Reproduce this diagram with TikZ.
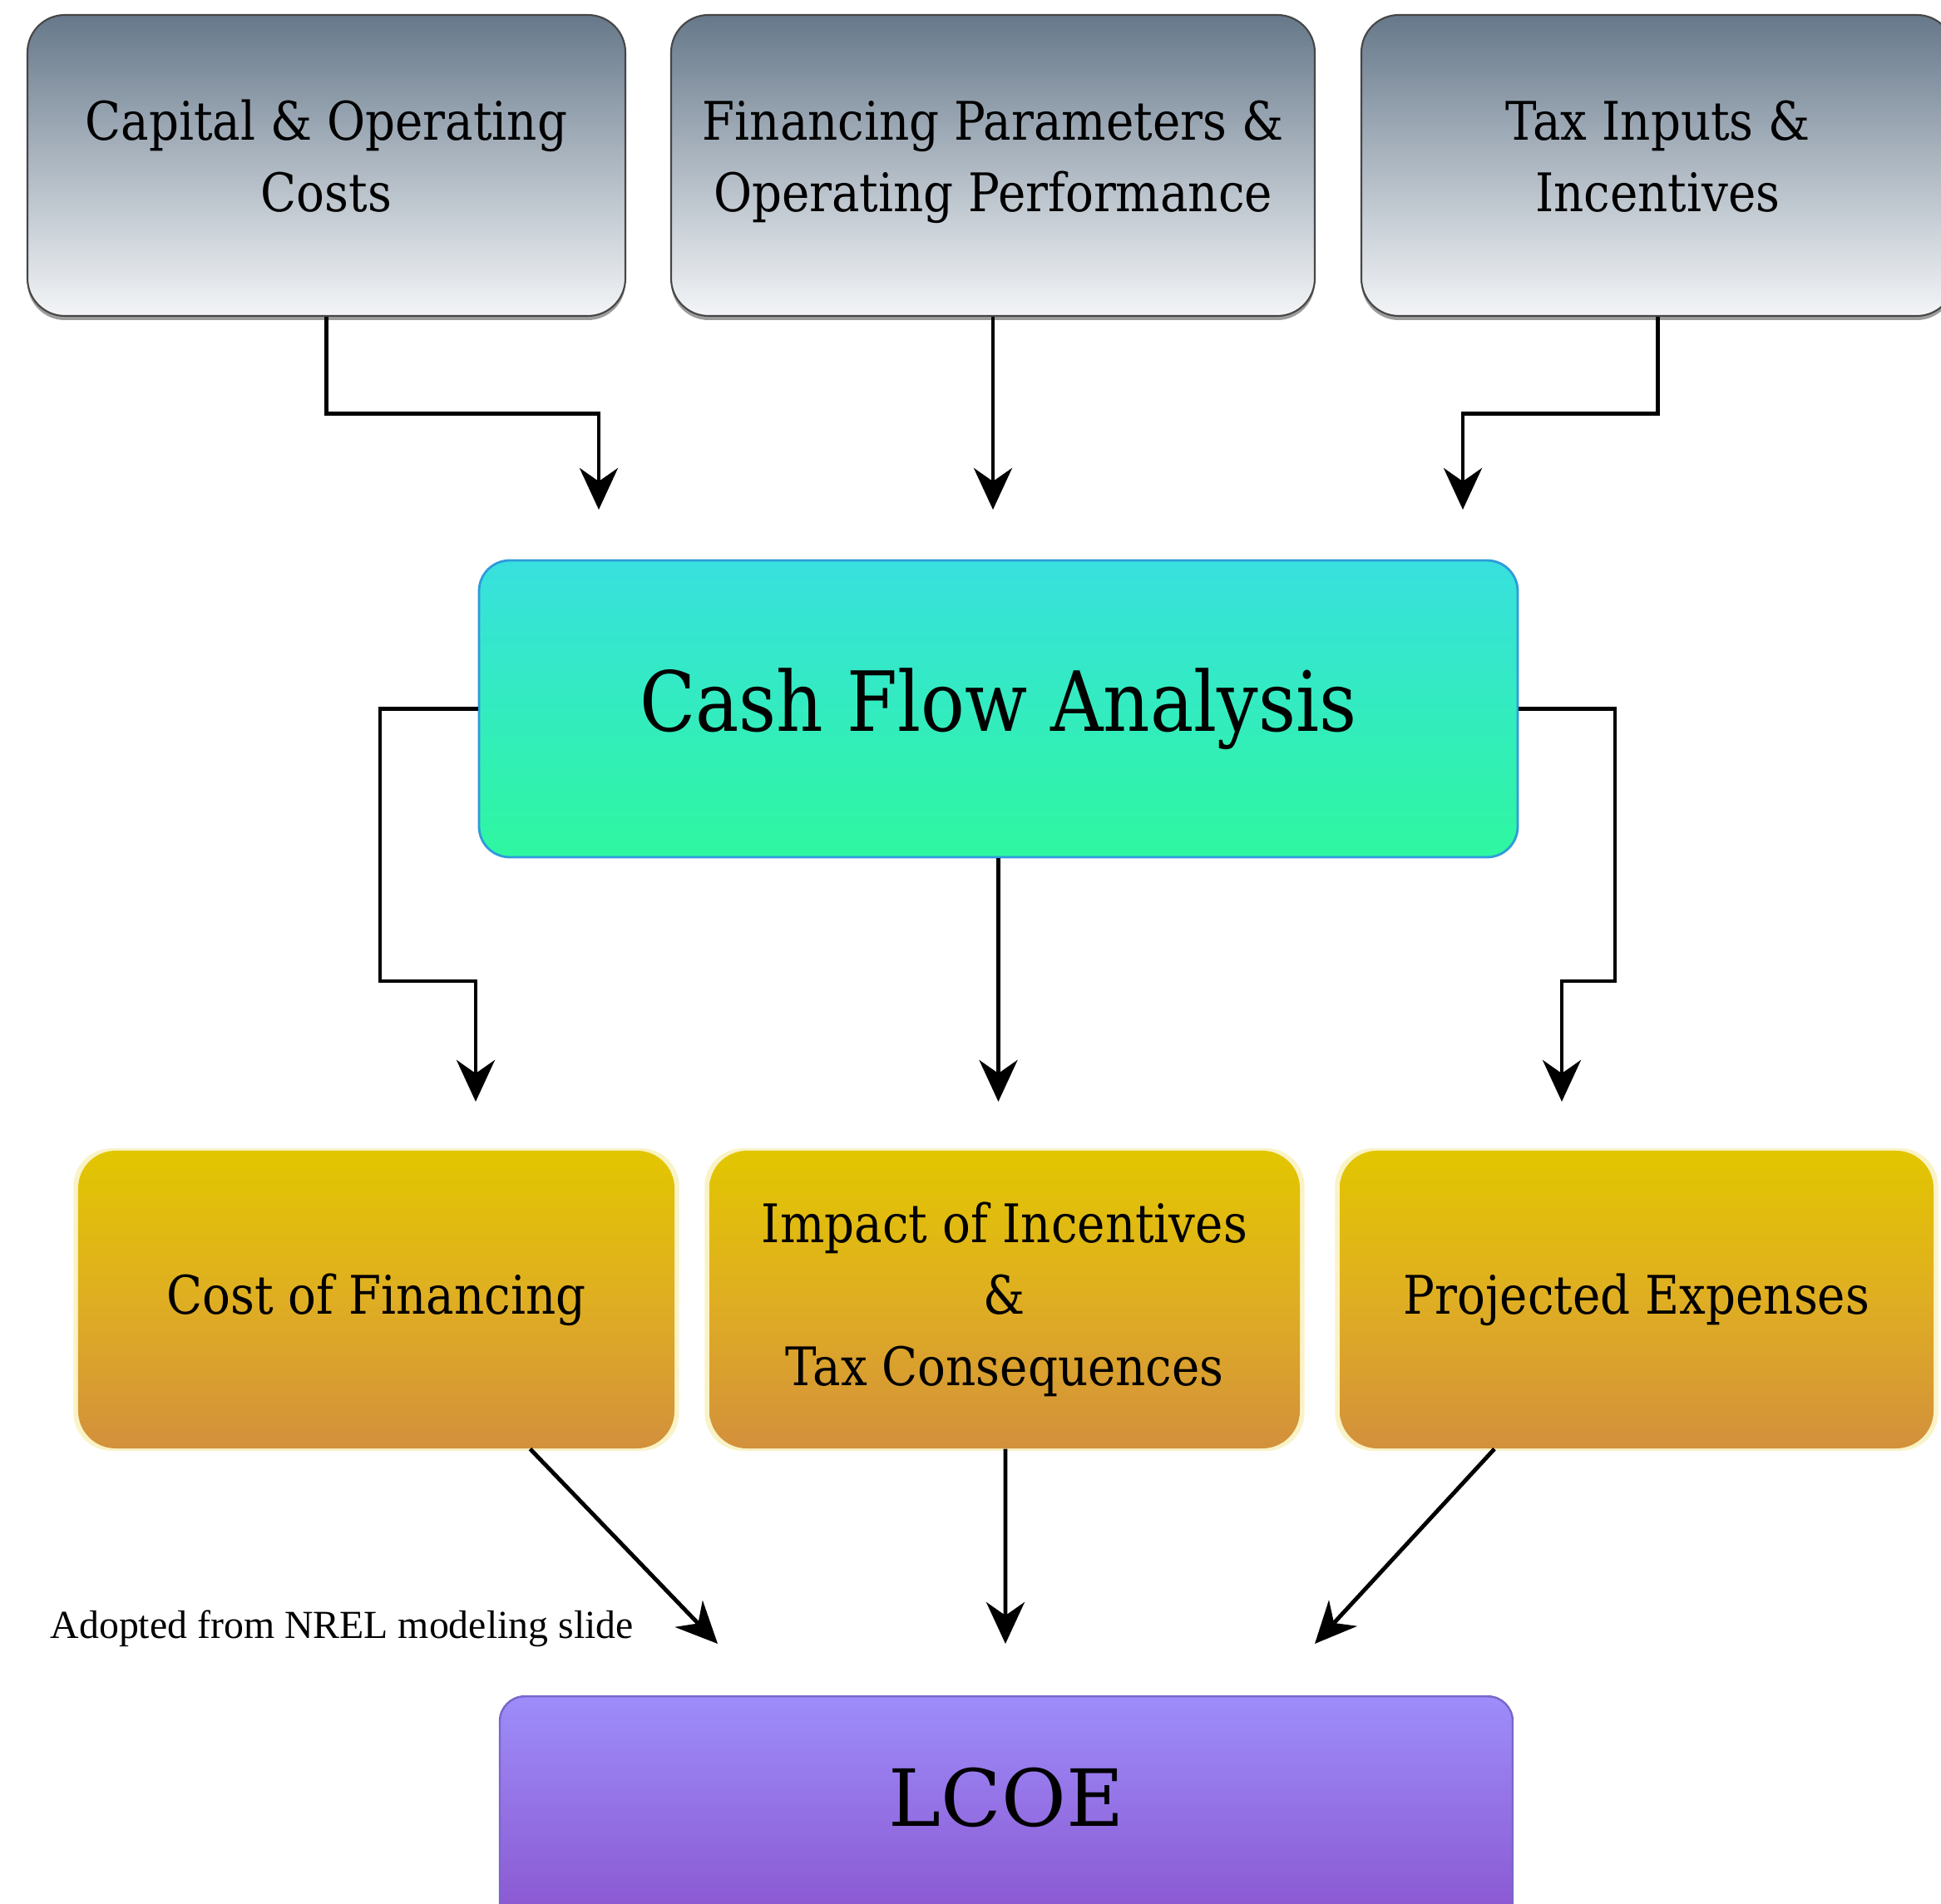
\documentclass[tikz,border=0pt]{standalone}
\usepackage{fontspec}
\setmainfont{DejaVu Serif}[FakeStretch=0.88]
\newfontfamily\lcoefont{DejaVu Serif}
\newfontfamily\notefont{Liberation Serif}
\usetikzlibrary{arrows.meta,shadows,calc}
\definecolor{slateT}{HTML}{66788A}
\definecolor{slateM}{HTML}{AEB8C2}
\definecolor{slateB}{HTML}{F3F5F7}
\definecolor{cyanT}{HTML}{38E0DE}
\definecolor{cyanB}{HTML}{2EF7A0}
\definecolor{cyanD}{HTML}{2E9BDB}
\definecolor{goldT}{HTML}{E2C600}
\definecolor{goldM}{HTML}{DFAE22}
\definecolor{goldB}{HTML}{D3903C}
\definecolor{glow}{HTML}{F7EEB0}
\definecolor{purT}{HTML}{9D8DFA}
\definecolor{purB}{HTML}{8850CC}
\definecolor{purD}{HTML}{7A66C8}
\begin{document}
\begin{tikzpicture}[x=1cm,y=1cm,
  txt/.style={font=\fontsize{18.2}{24.5}\selectfont, align=center},
  inbox/.style={txt, rounded corners=0.45cm, draw=gray!55!black, line width=0.6pt,
    top color=slateT, bottom color=slateB, middle color=slateM,
    minimum width=#1, minimum height=3.62cm, inner sep=0pt,
    drop shadow={shadow xshift=0cm, shadow yshift=-0.05cm, fill=black!70, opacity=0.55}},
  cfbox/.style={rounded corners=0.37cm, draw=cyanD, line width=0.8pt,
    top color=cyanT, bottom color=cyanB,
    minimum width=12.49cm, minimum height=3.57cm, inner sep=0pt,
    font=\fontsize{28.4}{34}\selectfont},
  goldbox/.style={txt, rounded corners=0.45cm, draw=none,
    top color=goldT, bottom color=goldB, middle color=goldM,
    minimum width=#1, minimum height=3.58cm, inner sep=0pt,
    general shadow={fill=glow, opacity=0.7, shadow scale=1.016}},
  lcoebox/.style={rounded corners=0.3cm, draw=purD, line width=0.7pt,
    top color=purT, bottom color=purB,
    minimum width=12.18cm, inner sep=0pt, text height=1.56cm, text depth=1.45cm,
    font=\lcoefont\fontsize{27}{32}\selectfont},
  arr/.style={line width=1.4pt, -{Stealth[length=5mm, width=4.6mm, inset=1.6mm]}},
  note/.style={font=\notefont\fontsize{13.6}{16}\selectfont, anchor=west, inner sep=0pt}
]
\useasboundingbox (0,0) rectangle (23.34,-22.90);
\fill[white] (0,0) rectangle (23.34,-22.90);

% top input boxes
\node[inbox=7.19cm] (c1) at (3.925,-1.99) {Capital \& Operating\\Costs\\[-18pt]\mbox{}};
\node[inbox=7.74cm] (c2) at (11.94,-1.99) {Financing Parameters \&\\Operating Performance\\[-18pt]\mbox{}};
\node[inbox=7.13cm] (c3) at (19.935,-1.99) {Tax Inputs \&\\Incentives\\[-18pt]\mbox{}};

% cash flow
\node[cfbox] (cf) at (12.005,-8.525) {Cash Flow Analysis};

% middle boxes
\node[goldbox=7.17cm] (g1) at (4.525,-15.63) {Cost of Financing};
\node[goldbox=7.10cm] (g2) at (12.08,-15.63) {Impact of Incentives\\\&\\Tax Consequences};
\node[goldbox=7.14cm] (g3) at (19.68,-15.63) {Projected Expenses};

% LCOE
\node[lcoebox, anchor=north] (lcoe) at (12.10,-20.39) {LCOE};

% note
\node[note] (src) at (0.60,-19.59) {Adopted from NREL modeling slide};

% arrow tips
\coordinate (t1) at (7.20,-6.13);
\coordinate (t2) at (11.94,-6.13);
\coordinate (t3) at (17.59,-6.13);
\coordinate (t4) at (5.72,-13.25);
\coordinate (t5) at (12.005,-13.25);
\coordinate (t6) at (18.78,-13.25);
\coordinate (t7) at (8.63,-19.77);
\coordinate (t8) at (12.09,-19.77);
\coordinate (t9) at (15.81,-19.77);

% connectors from inputs
\draw[arr] (c1.south) -- ++(0,-1.16) -| (t1);
\draw[arr] (c2.south) -- (t2);
\draw[arr] (c3.south) -- ++(0,-1.16) -| (t3);

% connectors from cash flow
\draw[arr] (cf.west) -| (4.57,-11.80) -| (t4);
\draw[arr] (cf.south) -- (t5);
\draw[arr] (cf.east) -| (19.42,-11.80) -| (t6);

% connectors to LCOE
\draw[arr] ([xshift=1.85cm]g1.south) -- (t7);
\draw[arr] ([xshift=0.01cm]g2.south) -- (t8);
\draw[arr] ([xshift=-1.71cm]g3.south) -- (t9);
\end{tikzpicture}
\end{document}
